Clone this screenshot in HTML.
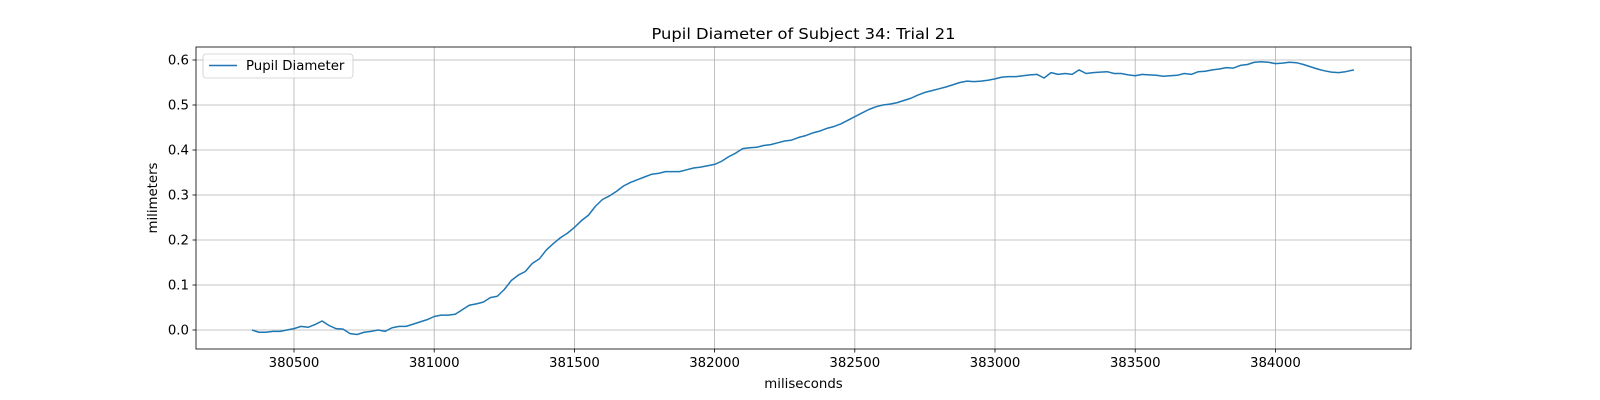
<!DOCTYPE html>
<html><head><meta charset="utf-8"><style>
html,body{margin:0;padding:0;background:#fff;}
svg{display:block;font-family:"DejaVu Sans","Liberation Sans",sans-serif;}
</style></head><body>
<svg id="chart" width="1600" height="400" xmlns="http://www.w3.org/2000/svg"></svg>
<script>
const times = [380350,380375,380400,380425,380450,380475,380500,380525,380550,380575,380600,380625,380650,380675,380700,380725,380750,380775,380800,380825,380850,380875,380900,380925,380950,380975,381000,381025,381050,381075,381100,381125,381150,381175,381200,381225,381250,381275,381300,381325,381350,381375,381400,381425,381450,381475,381500,381525,381550,381575,381600,381625,381650,381675,381700,381725,381750,381775,381800,381825,381850,381875,381900,381925,381950,381975,382000,382025,382050,382075,382100,382125,382150,382175,382200,382225,382250,382275,382300,382325,382350,382375,382400,382425,382450,382475,382500,382525,382550,382575,382600,382625,382650,382675,382700,382725,382750,382775,382800,382825,382850,382875,382900,382925,382950,382975,383000,383025,383050,383075,383100,383125,383150,383175,383200,383225,383250,383275,383300,383325,383350,383375,383400,383425,383450,383475,383500,383525,383550,383575,383600,383625,383650,383675,383700,383725,383750,383775,383800,383825,383850,383875,383900,383925,383950,383975,384000,384025,384050,384075,384100,384125,384150,384175,384200,384225,384250,384280];
const pupilValues = [0.000,-0.005,-0.005,-0.003,-0.003,0.000,0.003,0.008,0.006,0.012,0.020,0.010,0.003,0.002,-0.008,-0.010,-0.005,-0.003,0.000,-0.003,0.005,0.008,0.008,0.013,0.018,0.023,0.030,0.033,0.033,0.035,0.045,0.055,0.058,0.062,0.072,0.075,0.090,0.110,0.122,0.130,0.148,0.158,0.178,0.192,0.205,0.215,0.228,0.243,0.255,0.275,0.290,0.298,0.308,0.320,0.328,0.334,0.340,0.346,0.348,0.352,0.352,0.352,0.356,0.360,0.362,0.365,0.368,0.375,0.385,0.393,0.403,0.405,0.406,0.410,0.412,0.416,0.420,0.422,0.428,0.432,0.438,0.442,0.448,0.452,0.458,0.466,0.474,0.482,0.490,0.496,0.500,0.502,0.505,0.510,0.515,0.522,0.528,0.532,0.536,0.540,0.545,0.550,0.553,0.552,0.553,0.555,0.558,0.562,0.563,0.563,0.565,0.567,0.568,0.560,0.572,0.568,0.570,0.568,0.578,0.570,0.572,0.573,0.574,0.570,0.570,0.567,0.565,0.568,0.567,0.566,0.564,0.565,0.566,0.570,0.568,0.574,0.575,0.578,0.580,0.583,0.582,0.588,0.590,0.595,0.596,0.595,0.592,0.593,0.595,0.594,0.590,0.585,0.580,0.576,0.573,0.572,0.574,0.578];
const xTicks = [380500,381000,381500,382000,382500,383000,383500,384000];
const yTicks = [0.0,0.1,0.2,0.3,0.4,0.5,0.6];
const yTickLabels = ["0.0","0.1","0.2","0.3","0.4","0.5","0.6"];

const L=196,R=1411,T=47,B=349;
const xs = v => 294 + (v-380500)/500*140.2;
const ys = v => 330 - v*450;
const svg=document.getElementById('chart');
const NS='http://www.w3.org/2000/svg';
function mk(tag,attrs,parent){const e=document.createElementNS(NS,tag);for(const k in attrs)e.setAttribute(k,attrs[k]);(parent||svg).appendChild(e);return e;}

const grid=mk('g',{});


xTicks.forEach((t,i)=>{
  const x=xs(t);
  const gl=mk('line',{x1:x,x2:x,y1:T,y2:B,stroke:'#b0b0b0','stroke-width':0.8},grid);
  
  
  mk('line',{x1:x,x2:x,y1:B,y2:B+3.5,stroke:'#000','stroke-width':0.8});
  const tx=mk('text',{x:x,y:B+18,'text-anchor':'middle','font-size':'13.3px',fill:'#000'});
  tx.textContent=String(t);
  
  
});
yTicks.forEach((t,i)=>{
  const y=ys(t);
  const gl=mk('line',{x1:L,x2:R,y1:y,y2:y,stroke:'#b0b0b0','stroke-width':0.8},grid);
  
  
  mk('line',{x1:L-3.5,x2:L,y1:y,y2:y,stroke:'#000','stroke-width':0.8});
  const tx=mk('text',{x:L-7,y:y+4.5,'text-anchor':'end','font-size':'13.3px',fill:'#000'});
  tx.textContent=yTickLabels[i];
  
  
});

const d=times.map((t,i)=>(i?'L':'M')+xs(t).toFixed(2)+','+ys(pupilValues[i]).toFixed(2)).join(' ');
const line=mk('path',{d:d,fill:'none',stroke:'#1f77b4','stroke-width':1.5,'stroke-linejoin':'round'});



const frame=mk('rect',{x:L,y:T,width:R-L,height:B-T,fill:'none',stroke:'#000','stroke-width':0.8});



const title=mk('text',{x:(L+R)/2,y:39,'text-anchor':'middle','font-size':'15.5px',fill:'#000',textLength:304,lengthAdjust:'spacingAndGlyphs'});
title.textContent='Pupil Diameter of Subject 34: Trial 21';



const xl=mk('text',{x:(L+R)/2,y:388,'text-anchor':'middle','font-size':'13.3px',fill:'#000'});
xl.textContent='miliseconds';



const yl=mk('text',{x:0,y:0,'text-anchor':'middle','font-size':'13.3px',fill:'#000',transform:'translate(157,198) rotate(-90)'});
yl.textContent='milimeters';



const lg=mk('g',{});


mk('rect',{x:203,y:54,width:150,height:24,rx:3,fill:'#fff','fill-opacity':0.8,stroke:'#cccccc','stroke-width':0.8},lg);
mk('line',{x1:209,x2:237,y1:65.5,y2:65.5,stroke:'#1f77b4','stroke-width':1.5},lg);
const lt=mk('text',{x:246,y:70,'font-size':'13.3px',fill:'#000'},lg);
lt.textContent='Pupil Diameter';


</script>
</body></html>
